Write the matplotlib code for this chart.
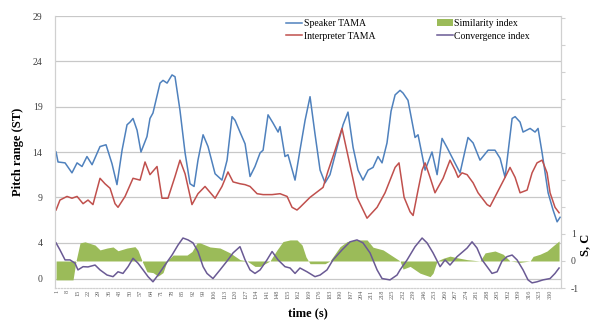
import matplotlib.pyplot as plt
import numpy as np

plt.rcParams['font.family'] = ['Liberation Serif', 'DejaVu Serif']

# time (s) and values
t_speaker = [0.7, 2, 6.7, 11.3, 14.7, 18, 21.3, 24.7, 30, 34, 38, 41.3, 44.7, 48, 50, 52, 54.7, 57.3,
             61.3, 63.3, 65.3, 70, 72, 74.7, 78, 80, 83.3, 86.7, 90, 92.7, 95.3, 98.7, 102, 106.7,
             111.3, 114.7, 118, 120, 123.3, 126.7, 130, 133.3, 136.7, 138.7, 142, 145.3, 148.7, 150,
             153.3, 155.3, 160, 163.3, 166.7, 170, 173.3, 176.7, 180, 183.3, 188, 192, 195.3, 198.7,
             202, 205.3, 208.7, 212, 215.3, 218, 221.3, 224, 226.7, 230, 232, 235.3, 240, 242, 246.7,
             251.3, 254.7, 258, 261.3, 264.7, 270, 275.3, 278.7, 283.3, 288.7, 293.3, 296.7, 300,
             304.7, 306.7, 310, 312, 316.7, 320, 322, 324.7, 328.7, 332, 334.7, 336.7]
speaker = [14.0, 12.9, 12.8, 11.7, 12.8, 12.4, 13.5, 12.6, 14.6, 14.8, 12.7, 10.4, 14.2, 17.0, 17.3,
           17.7, 16.4, 14.0, 15.7, 17.7, 18.3, 21.6, 21.9, 21.6, 22.5, 22.3, 18.6, 13.9, 10.5, 10.2,
           13.1, 15.9, 14.6, 11.6, 10.9, 13.1, 17.9, 17.5, 16.2, 14.9, 11.3, 12.4, 13.9, 14.2, 18.1,
           17.2, 16.2, 16.8, 13.5, 13.7, 10.9, 14.2, 17.5, 20.1, 16.0, 12.0, 10.6, 11.5, 14.5, 17.0,
           18.4, 14.5, 12.0, 10.9, 12.0, 12.3, 13.5, 12.8, 15.0, 18.5, 20.3, 20.8, 20.5, 19.7, 15.6,
           15.9, 12.0, 14.0, 11.5, 15.5, 14.5, 13.4, 11.7, 15.6, 15.0, 13.1, 14.2, 14.2, 13.3, 11.2,
           17.7, 17.9, 17.3, 16.2, 16.6, 16.2, 16.6, 13.9, 9.5, 7.6, 6.3, 6.8]

t_interp = [0.7, 3.3, 8, 11.3, 14.7, 18.7, 22, 25.3, 30, 33.3, 36.7, 40, 42, 46.7, 52, 56.7, 60, 63.3,
            68, 71.3, 75.3, 80, 83.3, 86.7, 91.3, 95.3, 100, 106.7, 111.3, 115.3, 118.7, 123.3, 126.7,
            130, 134.7, 138.7, 144.7, 150, 154.7, 158, 161.3, 163.3, 170, 178.7, 182, 186.7, 191.3,
            196.7, 201.3, 208, 214.7, 220, 226.7, 229.3, 232.7, 236.7, 238.7, 242, 244.7, 246.7, 250,
            253.3, 258.7, 263.3, 266.7, 268.7, 271.3, 274.7, 278.7, 282, 288, 290, 294.7, 300, 303.3,
            306.7, 310, 314.7, 318, 321.3, 324.7, 328, 330, 333.3, 336]
interp = [7.6, 8.7, 9.1, 8.9, 9.1, 8.3, 8.7, 8.2, 11.1, 10.5, 10.0, 8.3, 7.9, 9.1, 11.1, 10.9, 12.9,
          11.5, 12.4, 8.9, 8.9, 11.3, 13.1, 11.6, 8.2, 9.4, 10.2, 8.9, 10.2, 11.8, 10.7, 10.5, 10.4,
          10.2, 9.4, 9.3, 9.3, 9.4, 9.1, 7.9, 7.6, 7.9, 9.0, 10.1, 11.9, 14.2, 16.6, 12.5, 9.0, 6.7,
          7.9, 9.5, 12.3, 12.8, 9.0, 7.4, 7.0, 9.8, 12.0, 12.8, 11.2, 9.5, 11.1, 13.1, 12.0, 11.2,
          11.7, 11.5, 10.6, 9.5, 8.2, 8.0, 9.5, 11.2, 12.3, 11.2, 9.5, 9.8, 11.7, 12.8, 13.1, 11.7,
          9.5, 7.9, 7.3]

t_sim = [0.7, 12, 14, 16.7, 20, 26.7, 30, 34.7, 38.7, 42, 48, 53.3, 55.3, 58, 61.3, 65.3, 68.7, 72,
         74.7, 78.7, 88, 91.3, 94.7, 96.7, 103.3, 110, 116.7, 123.3, 128, 133.3, 136.7, 143.3, 148,
         152, 156.7, 161.3, 164.7, 167.3, 170, 180, 183.3, 190, 194.7, 201.3, 208, 212, 218.7, 225.3,
         230, 232, 236.7, 243.3, 250, 252, 254.7, 258.7, 263.3, 268, 274.7, 283.3, 286.7, 293.3,
         298.7, 303.3, 310, 316.7, 318.7, 323.3, 328, 332, 336]
similarity = [-0.7, -0.7, 0, 0.67, 0.71, 0.59, 0.41, 0.48, 0.52, 0.38, 0.48, 0.53, 0.4, 0, -0.4,
              -0.43, -0.56, -0.43, 0, 0.22, 0.22, 0.35, 0.67, 0.67, 0.52, 0.48, 0.30, 0.05, 0, -0.2,
              -0.2, 0, 0.41, 0.72, 0.78, 0.78, 0.59, 0.15, -0.1, -0.1, 0, 0.53, 0.72, 0.78, 0.78,
              0.51, 0.41, 0.17, 0, -0.3, -0.2, -0.45, -0.58, -0.45, 0, 0.1, 0.18, 0.12, 0.05, 0,
              0.3, 0.37, 0.25, 0, -0.05, 0, 0.17, 0.25, 0.37, 0.56, 0.74]

t_conv = [0.7, 3.3, 6.7, 10, 13.3, 15.3, 18.7, 22, 26.7, 30, 34.7, 38.7, 42, 45.3, 48.7, 52, 55.3,
          58.7, 62, 65.3, 68.7, 73.3, 78, 82, 85.3, 88.7, 92, 95.3, 98.7, 101.3, 105.3, 110, 114.7,
          118.7, 123.3, 126.7, 130, 133.3, 136.7, 141.3, 144.7, 148.7, 153.3, 156.7, 160, 163.3, 168,
          173.3, 176.7, 181.3, 185.3, 191.3, 196.7, 201.3, 205.3, 210, 214.7, 218, 223.3, 228, 230,
          234.7, 240, 244.7, 248, 252, 256.7, 260, 263.3, 268, 272, 274.7, 278, 281.3, 284.7, 288,
          291.3, 294.7, 298, 301.3, 304.7, 308, 312, 315.3, 318, 321.3, 325.3, 330, 333.3, 336]
convergence = [0.67, 0.41, 0.04, 0.04, -0.08, -0.33, -0.21, -0.22, -0.15, -0.33, -0.52, -0.58, -0.4,
               -0.46, -0.21, 0.1, -0.08, -0.33, -0.58, -0.77, -0.52, -0.15, 0.22, 0.59, 0.85, 0.78,
               0.67, 0.35, -0.21, -0.46, -0.65, -0.33, 0, 0.3, 0.53, 0.04, -0.33, -0.46, -0.33, 0.04,
               0.35, 0.04, -0.21, -0.26, -0.46, -0.26, -0.4, -0.58, -0.52, -0.33, 0.04, 0.41, 0.71,
               0.78, 0.67, 0.3, -0.33, -0.65, -0.7, -0.52, -0.33, 0.04, 0.53, 0.85, 0.67, 0.3, -0.21,
               0.04, -0.15, 0.16, 0.35, 0.48, 0.71, 0.48, 0.04, -0.21, -0.46, -0.4, 0, 0.16, 0.22,
               0.04, -0.33, -0.7, -0.81, -0.77, -0.7, -0.65, -0.46, -0.26]

time_labels = ['1', '8', '15', '22', '29', '36', '43', '50', '57', '64', '71', '78', '85', '92', '99',
               '106', '113', '120', '127', '134', '141', '148', '155', '162', '169', '176', '183',
               '190', '197', '204', '211', '218', '225', '232', '239', '246', '253', '260', '267',
               '274', '281', '288', '295', '302', '309', '316', '323', '330']

c_blue = '#4f81bd'
c_red = '#c0504d'
c_green = '#9bbb59'
c_purple = '#6a5a94'

fig = plt.figure(figsize=(5.96, 3.2), dpi=100)
ax1 = fig.add_axes([0.0923, 0.10, 0.849, 0.85])
ax2 = ax1.twinx()

l1, = ax1.plot(t_speaker, speaker, color=c_blue, lw=1.1, label='Speaker TAMA')
l2, = ax1.plot(t_interp, interp, color=c_red, lw=1.1, label='Interpreter TAMA')
fill = ax2.fill_between(t_sim, similarity, 0, color=c_green, lw=0, label='Similarity index')
l4, = ax2.plot(t_conv, convergence, color=c_purple, lw=1.1, label='Convergence index')

ax1.set_xlim(0, 337.3)
ax1.set_ylim(-1, 29)
ax1.set_yticks([0, 4, 9, 14, 19, 24, 29])
ax1.yaxis.grid(True, color='#c8c8c8', lw=0.9)
ax1.set_axisbelow(True)
ax1.set_xticks([float(s) for s in time_labels])
ax1.set_xticklabels(time_labels, rotation=90, fontsize=4.5, color='#606060')
ax1.tick_params(axis='x', length=0, pad=1)
ax1.tick_params(axis='y', length=0, pad=9, labelsize=7, labelcolor='#404040')

ax2.set_ylim(-1, 9.07)
ax2.set_yticks(np.arange(-1, 10))
ax2.set_yticklabels(['-1', '0', '1'] + [''] * 8)
ax2.tick_params(axis='y', length=3, color='#d0d0d0', pad=4, labelsize=7, labelcolor='#404040')

for ax in (ax1, ax2):
    ax.spines['top'].set_visible(False)
    ax.spines['bottom'].set_color('#d0d0d0')
    ax.spines['bottom'].set_linestyle(':')
    ax.spines['left'].set_color('#d0d0d0')
    ax.spines['right'].set_color('#d0d0d0')

ax1.set_xlabel('time (s)', fontsize=9, fontweight='bold', labelpad=6)
ax1.set_ylabel('Pitch range (ST)', fontsize=9, fontweight='bold', labelpad=6)
ax2.set_ylabel('S, C', fontsize=9, fontweight='bold')
ax2.yaxis.set_label_coords(1.036, 0.16)

leg_a = fig.legend(handles=[l1, l2], loc='upper left', bbox_to_anchor=(0.472, 0.955),
                   frameon=False, fontsize=7, handlelength=1.6, handletextpad=0.2,
                   labelspacing=0.35, borderpad=0)
leg_b = fig.legend(handles=[fill, l4], loc='upper left', bbox_to_anchor=(0.725, 0.955),
                   frameon=False, fontsize=7, handlelength=1.6, handletextpad=0.2,
                   labelspacing=0.35, borderpad=0)

plt.savefig('out.png', dpi=100)
